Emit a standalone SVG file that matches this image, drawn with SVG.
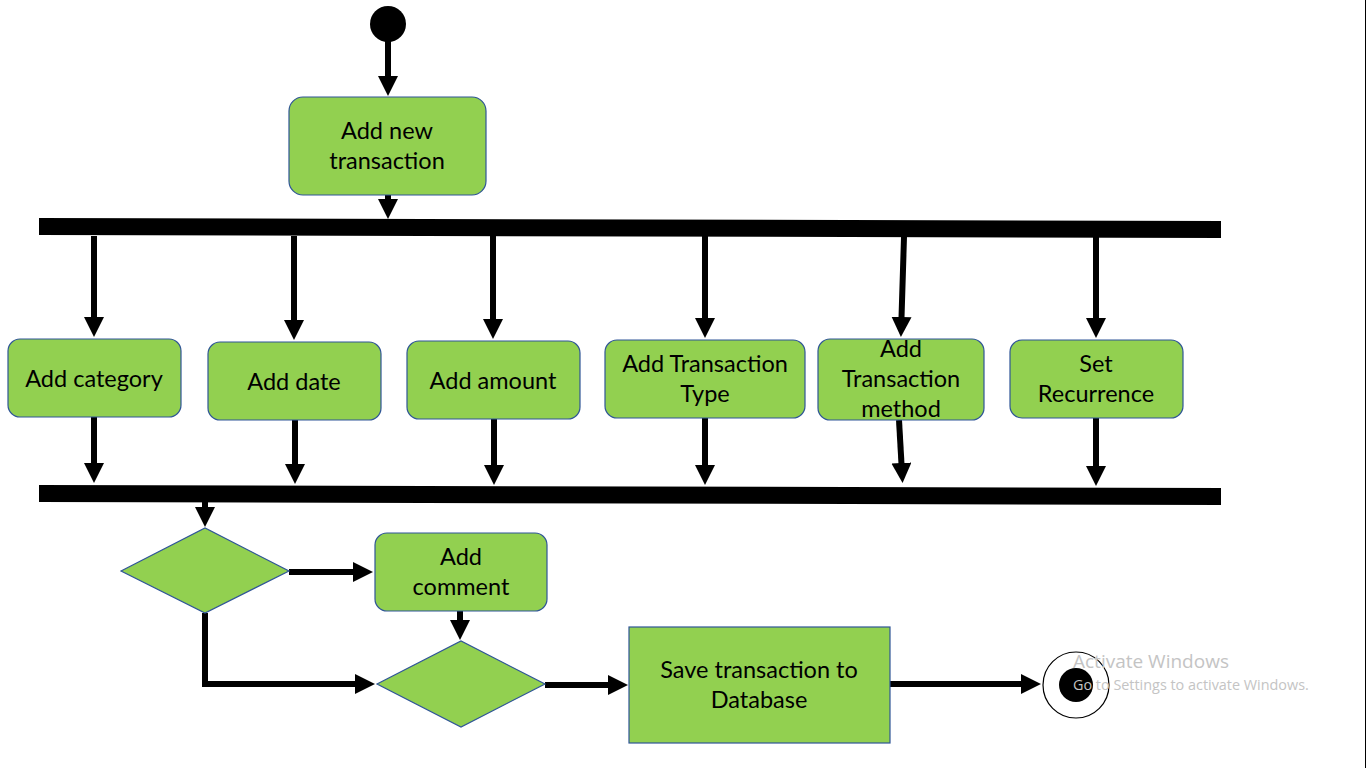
<svg xmlns="http://www.w3.org/2000/svg" width="1366" height="768" viewBox="0 0 1366 768">
<defs>
<style>
.act{fill:#92D050;stroke:#2F5597;stroke-width:1.2}
.lbl{font-family:Lato,"Open Sans","Liberation Sans",sans-serif;font-size:23.5px;fill:#000;text-anchor:middle}
.con{stroke:#000;stroke-width:6;fill:none}
.wm{font-family:"Open Sans","Noto Sans","Liberation Sans",sans-serif;fill:#c4c4c4}
</style>
<marker id="ah" markerUnits="userSpaceOnUse" markerWidth="22" markerHeight="22" refX="1" refY="10" orient="auto">
<path d="M0,0 L20,10 L0,20 z" fill="#000"/>
</marker>
</defs>
<rect x="0" y="0" width="1366" height="768" fill="#fff"/>
<line x1="1365.5" y1="0" x2="1365.5" y2="768" stroke="#000" stroke-width="1"/>

<g id="start"><circle cx="388" cy="24" r="18" fill="#000"/></g>

<g id="fork"><polygon points="39,218 1221,221 1221,238 39,235" fill="#000"/></g>
<g id="join"><polygon points="39,485 1221,488 1221,505 39,502" fill="#000"/></g>

<g id="connectors">
<line class="con" x1="388" y1="40" x2="388" y2="77" marker-end="url(#ah)"/>
<line class="con" x1="388" y1="195" x2="388" y2="200" marker-end="url(#ah)"/>
<line class="con" x1="94" y1="236" x2="94" y2="318" marker-end="url(#ah)"/>
<line class="con" x1="294" y1="236" x2="294" y2="321" marker-end="url(#ah)"/>
<line class="con" x1="493" y1="236" x2="493" y2="320" marker-end="url(#ah)"/>
<line class="con" x1="705" y1="236" x2="705" y2="319" marker-end="url(#ah)"/>
<line class="con" x1="904" y1="237" x2="901.5" y2="318" marker-end="url(#ah)"/>
<line class="con" x1="1096" y1="237" x2="1096" y2="319" marker-end="url(#ah)"/>
<line class="con" x1="94" y1="417" x2="94" y2="464" marker-end="url(#ah)"/>
<line class="con" x1="295" y1="420" x2="295" y2="465" marker-end="url(#ah)"/>
<line class="con" x1="494" y1="419" x2="494" y2="466" marker-end="url(#ah)"/>
<line class="con" x1="705" y1="418" x2="705" y2="466" marker-end="url(#ah)"/>
<line class="con" x1="899" y1="420" x2="901.5" y2="464" marker-end="url(#ah)"/>
<line class="con" x1="1096" y1="418" x2="1096" y2="467" marker-end="url(#ah)"/>
<line class="con" x1="205" y1="502" x2="205" y2="508" marker-end="url(#ah)"/>
<line class="con" x1="289" y1="572" x2="354" y2="572" marker-end="url(#ah)"/>
<line class="con" x1="460" y1="611" x2="460" y2="621" marker-end="url(#ah)"/>
<polyline class="con" points="205,613 205,684 356,684" marker-end="url(#ah)"/>
<line class="con" x1="545" y1="685" x2="609" y2="685" marker-end="url(#ah)"/>
<line class="con" x1="890" y1="684" x2="1022" y2="684" marker-end="url(#ah)"/>
</g>

<g id="add-new-transaction">
<rect class="act" x="289" y="97" width="197" height="98" rx="14"/>
<text class="lbl" x="387" y="139">Add new</text>
<text class="lbl" x="387" y="169">transaction</text>
</g>

<g id="add-category">
<rect class="act" x="8" y="339" width="173" height="78" rx="12"/>
<text class="lbl" x="94" y="387">Add category</text>
</g>
<g id="add-date">
<rect class="act" x="208" y="342" width="173" height="78" rx="12"/>
<text class="lbl" x="294" y="390">Add date</text>
</g>
<g id="add-amount">
<rect class="act" x="407" y="341" width="173" height="78" rx="12"/>
<text class="lbl" x="493" y="389">Add amount</text>
</g>
<g id="add-transaction-type">
<rect class="act" x="605" y="340" width="200" height="78" rx="12"/>
<text class="lbl" x="705" y="372">Add Transaction</text>
<text class="lbl" x="705" y="402">Type</text>
</g>
<g id="add-transaction-method">
<rect class="act" x="818" y="339" width="166" height="81" rx="12"/>
<text class="lbl" x="901" y="357">Add</text>
<text class="lbl" x="901" y="387">Transaction</text>
<text class="lbl" x="901" y="417">method</text>
</g>
<g id="set-recurrence">
<rect class="act" x="1010" y="340" width="173" height="78" rx="12"/>
<text class="lbl" x="1096" y="372">Set</text>
<text class="lbl" x="1096" y="402">Recurrence</text>
</g>

<g id="decision-1"><polygon class="act" points="121,571 205,528 289,571 205,613"/></g>
<g id="add-comment">
<rect class="act" x="375" y="533" width="172" height="78" rx="12"/>
<text class="lbl" x="461" y="565">Add</text>
<text class="lbl" x="461" y="595">comment</text>
</g>
<g id="decision-2"><polygon class="act" points="377,684 461,641 545,684 461,727"/></g>

<g id="save-transaction">
<rect class="act" x="629" y="627" width="261" height="116"/>
<text class="lbl" x="759" y="678">Save transaction to</text>
<text class="lbl" x="759" y="708">Database</text>
</g>

<g id="end">
<circle cx="1076" cy="685" r="33" fill="#fff" stroke="#000" stroke-width="1.2"/>
<circle cx="1076" cy="685" r="17" fill="#000"/>
</g>

<g id="watermark">
<text class="wm" x="1073" y="668" font-size="19">Activate Windows</text>
<text class="wm" x="1073" y="690" font-size="14.4">Go to Settings to activate Windows.</text>
</g>
</svg>
